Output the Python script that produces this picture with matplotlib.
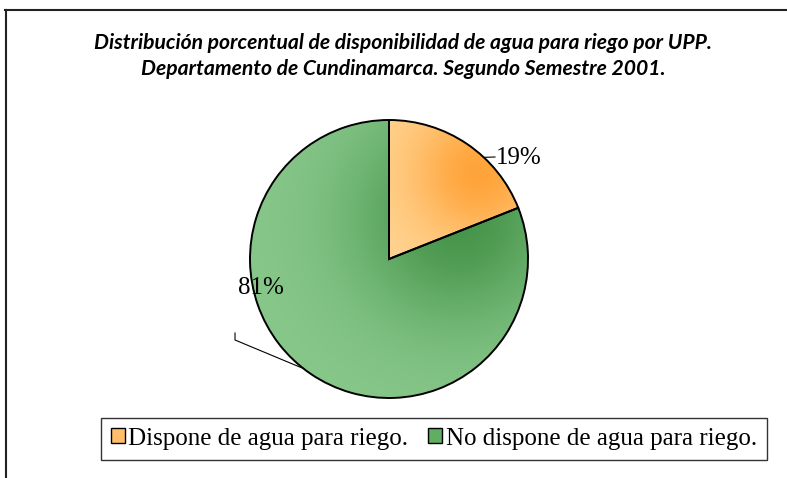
import numpy as np
import matplotlib
matplotlib.use("Agg")
import matplotlib.pyplot as plt
from matplotlib.patches import Patch
from matplotlib.lines import Line2D

# data
categories = ["Dispone de agua para riego.", "No dispone de agua para riego."]
values = [19, 81]
title = ("Distribución porcentual de disponibilidad de agua para riego por UPP.\n"
         "Departamento de Cundinamarca. Segundo Semestre 2001.")

W, H = 787, 478
fig = plt.figure(figsize=(W / 100, H / 100), dpi=100)
ax = fig.add_axes([0, 0, 1, 1])

cx, cy, r = 389, H - 259, 139

wedges, _ = ax.pie(values, startangle=90, counterclock=False,
                   center=(cx, cy), radius=r, frame=True,
                   wedgeprops=dict(edgecolor="black", linewidth=1.4, facecolor="none"))
ax.set_xlim(0, W)
ax.set_ylim(0, H)
ax.set_aspect("equal")
ax.axis("off")

# gradient fills clipped to the wedges
n = 300
gx, gy = np.meshgrid(np.linspace(-1, 1, n), np.linspace(1, -1, n))


def grad(light, dark, px, py, s):
    t = np.exp(-((gx - px) ** 2 + (gy - py) ** 2) / s)[..., None]
    light = np.array(matplotlib.colors.to_rgb(light))
    dark = np.array(matplotlib.colors.to_rgb(dark))
    return light * (1 - t) + dark * t


fills = [grad("#ffd594", "#ffa43a", 0.65, 0.62, 0.25),
         grad("#88c88b", "#46944a", 0.5, 0.3, 0.6)]
for w, img in zip(wedges, fills):
    im = ax.imshow(img, extent=(cx - r, cx + r, cy - r, cy + r), zorder=0.5,
                   interpolation="bilinear")
    im.set_clip_path(w)
    w.set_zorder(1)

# data labels with leader lines
lab_font = dict(family=["Liberation Serif", "DejaVu Serif"], fontsize=18)
a1 = np.deg2rad(47)
p1 = (cx + r * np.cos(a1), cy + r * np.sin(a1))
ax.plot([p1[0], 495], [p1[1], H - 157], color="black", lw=0.8, zorder=2)
ax.text(496, H - 158, f"{values[0]}%", ha="left", va="center", **lab_font)

a2 = np.deg2rad(232)
p2 = (cx + r * np.cos(a2), cy + r * np.sin(a2))
ax.plot([235, 235, p2[0]], [H - 333, H - 340, p2[1]], color="black", lw=0.8, zorder=2)
ax.text(261, H - 288, f"{values[1]}%", ha="center", va="center", **lab_font)

# title
fig.text(403 / W, 1 - 56 / H, title, ha="center", va="center", style="italic",
         weight="bold", fontsize=15.2, family=["Lato", "DejaVu Sans"],
         linespacing=1.4)

# outer frame (only top and left visible)
fig.add_artist(Line2D([5 / W, 1], [1 - 10 / H, 1 - 10 / H], color="#222222", lw=1.5))
fig.add_artist(Line2D([6 / W, 6 / W], [0, 1 - 10 / H], color="#222222", lw=1.5))

# legend
handles = [Patch(facecolor=c, edgecolor="black", linewidth=1.0)
           for c in ["#ffbf6a", "#5fae62"]]
leg = fig.legend(handles, categories, loc="center",
                 bbox_to_anchor=(434 / W, 1 - 438.5 / H), ncol=2,
                 prop=dict(family=["Liberation Serif", "DejaVu Serif"], size=18),
                 frameon=True, fancybox=False, edgecolor="black",
                 handlelength=0.55, handleheight=0.55, handletextpad=0.15,
                 columnspacing=0.8, borderpad=0.4)
leg.get_frame().set_linewidth(1.0)

fig.savefig("out.png", dpi=100)
